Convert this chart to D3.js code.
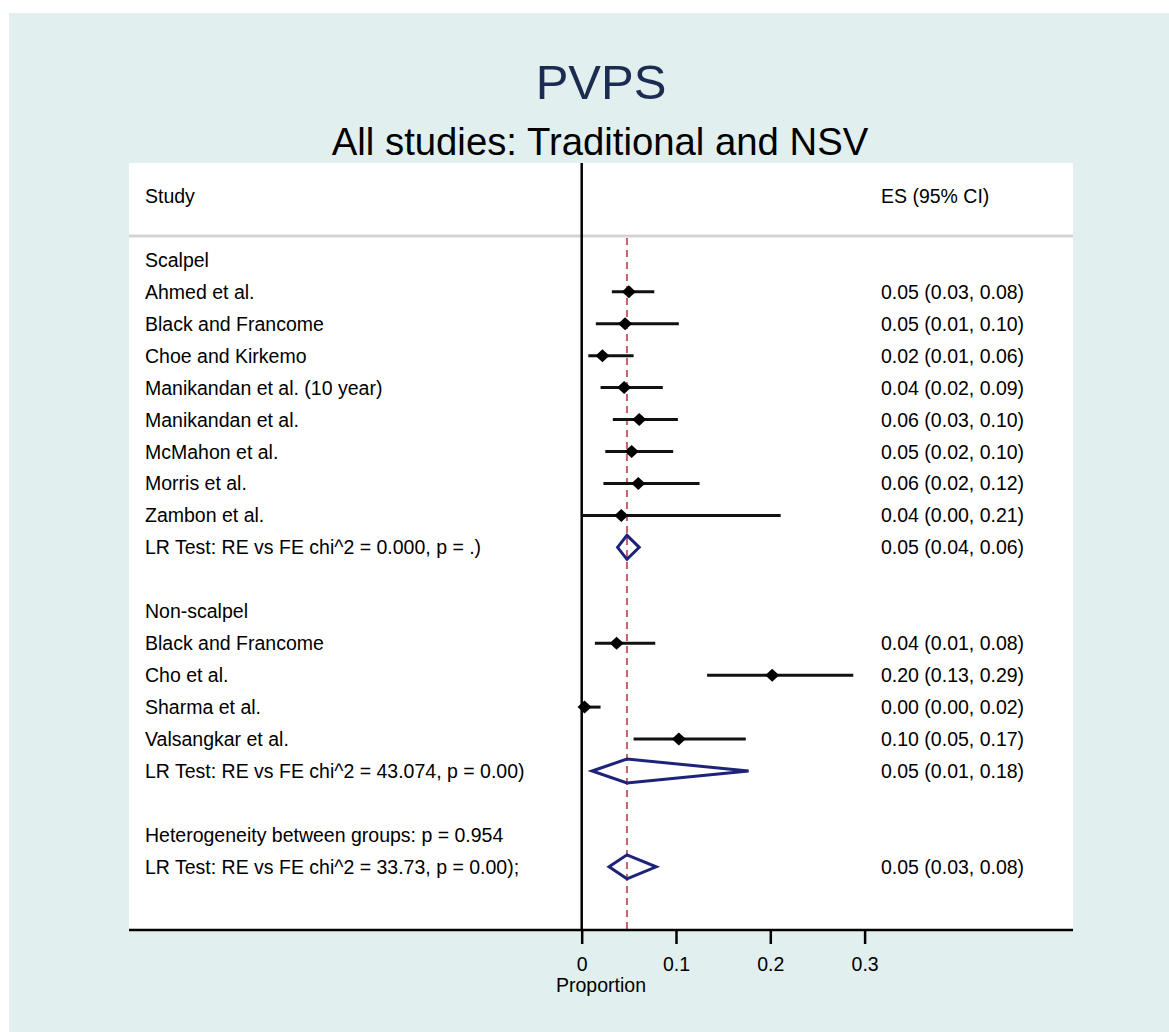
<!DOCTYPE html>
<html>
<head>
<meta charset="utf-8">
<script src="https://cdn.jsdelivr.net/npm/d3@7"></script>
<style>
  body { margin: 0; background: #ffffff; }
  text { font-family: 'Liberation Sans', Arial, sans-serif; }
</style>
</head>
<body>
<div id="forest"></div>
<script>
// individual studies
const studyNames = [
  'Ahmed et al.', 'Black and Francome', 'Choe and Kirkemo', 'Manikandan et al. (10 year)',
  'Manikandan et al.', 'McMahon et al.', 'Morris et al.', 'Zambon et al.',
  'Black and Francome', 'Cho et al.', 'Sharma et al.', 'Valsangkar et al.'
];
const studyRows = [1, 2, 3, 4, 5, 6, 7, 8, 12, 13, 14, 15];
const studyEs = [0.050, 0.046, 0.022, 0.045, 0.061, 0.053, 0.060, 0.042, 0.037, 0.202, 0.003, 0.103];
const studyLo = [0.032, 0.015, 0.007, 0.020, 0.033, 0.025, 0.023, 0.000, 0.014, 0.133, 0.000, 0.055];
const studyHi = [0.077, 0.103, 0.055, 0.086, 0.102, 0.097, 0.125, 0.211, 0.078, 0.288, 0.020, 0.174];
const studyCiText = [
  '0.05 (0.03, 0.08)', '0.05 (0.01, 0.10)', '0.02 (0.01, 0.06)', '0.04 (0.02, 0.09)',
  '0.06 (0.03, 0.10)', '0.05 (0.02, 0.10)', '0.06 (0.02, 0.12)', '0.04 (0.00, 0.21)',
  '0.04 (0.01, 0.08)', '0.20 (0.13, 0.29)', '0.00 (0.00, 0.02)', '0.10 (0.05, 0.17)'
];

// pooled estimates
const pooledLabels = [
  'LR Test: RE vs FE chi^2 = 0.000, p = .)',
  'LR Test: RE vs FE chi^2 = 43.074, p = 0.00)',
  'LR Test: RE vs FE chi^2 = 33.73, p = 0.00);'
];
const pooledRows = [9, 16, 19];
const pooledEs = [0.048, 0.048, 0.048];
const pooledLo = [0.038, 0.011, 0.029];
const pooledHi = [0.061, 0.177, 0.079];
const pooledCiText = ['0.05 (0.04, 0.06)', '0.05 (0.01, 0.18)', '0.05 (0.03, 0.08)'];

// group headings
const headingLabels = ['Scalpel', 'Non-scalpel', 'Heterogeneity between groups: p = 0.954'];
const headingRows = [0, 11, 18];

const overallEs = 0.048;
const xTicks = [0, 0.1, 0.2, 0.3];

const width = 1169;
const height = 1032;
const plot = { left: 129, right: 1073, top: 163, bottom: 930 };

const svg = d3.select('#forest')
  .append('svg')
  .attr('width', width)
  .attr('height', height);

// graph region + plot region
svg.append('rect')
  .attr('x', 9).attr('y', 13)
  .attr('width', width - 9).attr('height', height - 13)
  .attr('fill', '#e1efef');

svg.append('rect')
  .attr('x', plot.left).attr('y', plot.top)
  .attr('width', plot.right - plot.left).attr('height', plot.bottom - plot.top)
  .attr('fill', '#ffffff');

let x = d3.scaleLinear().domain([0, 0.3]).range([581.7, 581.7 + 0.3 * 943]);
let y = d3.scaleLinear().domain([0, 19]).range([259.8, 259.8 + 19 * 31.95]);

// titles
svg.append('text')
  .attr('x', 601).attr('y', 99)
  .attr('text-anchor', 'middle')
  .attr('font-size', 49)
  .attr('fill', '#1b2c50')
  .text('PVPS');

svg.append('text')
  .attr('x', 600).attr('y', 155)
  .attr('text-anchor', 'middle')
  .attr('font-size', 38.3)
  .attr('fill', '#000')
  .text('All studies: Traditional and NSV');

// header
svg.append('text')
  .attr('x', 145).attr('y', 203)
  .attr('font-size', 19.5)
  .text('Study');

svg.append('text')
  .attr('x', 881).attr('y', 203)
  .attr('font-size', 19.5)
  .text('ES (95% CI)');

svg.append('line')
  .attr('x1', plot.left).attr('x2', plot.right)
  .attr('y1', 236).attr('y2', 236)
  .attr('stroke', '#d3d3d3')
  .attr('stroke-width', 3);

// overall dashed line
svg.append('line')
  .attr('x1', x(overallEs)).attr('x2', x(overallEs))
  .attr('y1', 238).attr('y2', plot.bottom)
  .attr('stroke', '#c4636d')
  .attr('stroke-width', 2)
  .attr('stroke-dasharray', '7,5');

// zero line
svg.append('line')
  .attr('x1', x(0)).attr('x2', x(0))
  .attr('y1', plot.top).attr('y2', plot.bottom)
  .attr('stroke', '#000')
  .attr('stroke-width', 2.5);

// x axis
let xAxis = d3.axisBottom(x)
  .tickValues(xTicks)
  .tickSize(14)
  .tickPadding(13)
  .tickFormat((d) => (d === 0 ? '0' : d3.format('.1f')(d)));

let axisG = svg.append('g')
  .attr('transform', `translate(0,${plot.bottom})`)
  .call(xAxis);

axisG.select('.domain').remove();
axisG.selectAll('.tick line').attr('stroke', '#000').attr('stroke-width', 2.5);
axisG.selectAll('.tick text')
  .attr('font-size', 19.5)
  .attr('fill', '#000')
  .attr('font-family', "'Liberation Sans', Arial, sans-serif");

svg.append('line')
  .attr('x1', plot.left).attr('x2', plot.right)
  .attr('y1', plot.bottom).attr('y2', plot.bottom)
  .attr('stroke', '#000')
  .attr('stroke-width', 2.5);

svg.append('text')
  .attr('x', 601).attr('y', 992)
  .attr('text-anchor', 'middle')
  .attr('font-size', 19.5)
  .text('Proportion');

// headings
svg.selectAll('.heading')
  .data(headingLabels)
  .enter()
  .append('text')
  .attr('class', 'heading')
  .attr('x', 145)
  .attr('y', (d, i) => y(headingRows[i]) + 7)
  .attr('font-size', 19.5)
  .text((d) => d);

// study rows
let studies = svg.selectAll('.study')
  .data(studyNames)
  .enter()
  .append('g')
  .attr('class', 'study');

studies.append('text')
  .attr('x', 145)
  .attr('y', (d, i) => y(studyRows[i]) + 7)
  .attr('font-size', 19.5)
  .text((d) => d);

studies.append('text')
  .attr('x', 881)
  .attr('y', (d, i) => y(studyRows[i]) + 7)
  .attr('font-size', 19.5)
  .text((d, i) => studyCiText[i]);

studies.append('line')
  .attr('x1', (d, i) => x(studyLo[i]))
  .attr('x2', (d, i) => x(studyHi[i]))
  .attr('y1', (d, i) => y(studyRows[i]))
  .attr('y2', (d, i) => y(studyRows[i]))
  .attr('stroke', '#111')
  .attr('stroke-width', 3);

studies.append('path')
  .attr('d', (d, i) => {
    let cx = x(studyEs[i]);
    let cy = y(studyRows[i]);
    return `M${cx - 7},${cy}L${cx},${cy - 6.5}L${cx + 7},${cy}L${cx},${cy + 6.5}Z`;
  })
  .attr('fill', '#000');

// pooled rows
let pooled = svg.selectAll('.pooled')
  .data(pooledLabels)
  .enter()
  .append('g')
  .attr('class', 'pooled');

pooled.append('text')
  .attr('x', 145)
  .attr('y', (d, i) => y(pooledRows[i]) + 7)
  .attr('font-size', 19.5)
  .text((d) => d);

pooled.append('text')
  .attr('x', 881)
  .attr('y', (d, i) => y(pooledRows[i]) + 7)
  .attr('font-size', 19.5)
  .text((d, i) => pooledCiText[i]);

pooled.append('path')
  .attr('d', (d, i) => {
    let cy = y(pooledRows[i]);
    let lo = x(pooledLo[i]);
    let hi = x(pooledHi[i]);
    let mid = x(pooledEs[i]);
    return `M${lo},${cy}L${mid},${cy - 12}L${hi},${cy}L${mid},${cy + 12}Z`;
  })
  .attr('fill', 'none')
  .attr('stroke', '#1d2379')
  .attr('stroke-width', 3)
  .attr('stroke-linejoin', 'miter');
</script>
</body>
</html>
